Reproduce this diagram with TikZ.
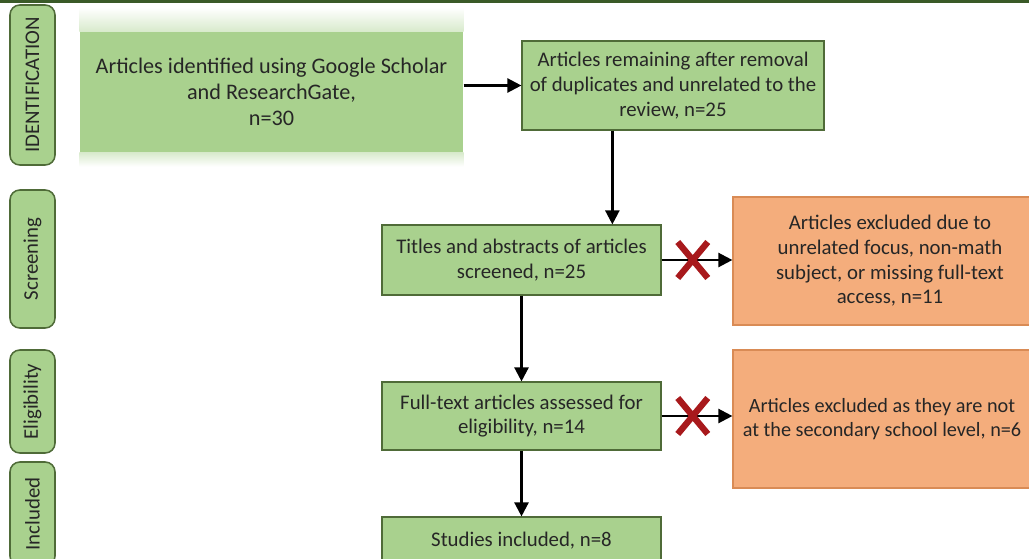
\documentclass[tikz,border=0pt]{standalone}
\usepackage{fontspec}
\setmainfont{Carlito}
\usetikzlibrary{arrows.meta, positioning, calc, fit, backgrounds}

\definecolor{stagegreen}{HTML}{A9D18E}
\definecolor{stageline}{HTML}{4F6B38}
\definecolor{exclfill}{HTML}{F4AD7C}
\definecolor{exclline}{HTML}{D98B55}
\definecolor{crossred}{HTML}{A8191C}
\definecolor{bandgreen}{HTML}{3A5A28}
\definecolor{textgray}{HTML}{262626}

\begin{document}
\begin{tikzpicture}[
    x=0.025cm, y=-0.025cm,
    font=\fontsize{14.8}{17.5}\selectfont,
    % Styles
    phase/.style={
        draw=stageline, fill=stagegreen, rounded corners=7pt, rotate=90,
        minimum height=1.125cm, line width=1.1pt, text=textgray
    },
    record/.style={
        draw=stageline, fill=stagegreen, align=center,
        minimum width=6.975cm, line width=0.8pt, text=textgray
    },
    excluded/.style={
        draw=exclline, fill=exclfill, align=center,
        minimum width=7.85cm, line width=0.8pt, text=textgray
    },
    arrow/.style={-{Triangle[length=10pt, width=10pt]}, line width=1.7pt},
    cross/.style={crossred, line width=4.5pt}
]
    \useasboundingbox (0,0) rectangle (1029,558);
    \clip (0,0) rectangle (1029,558);

    % --- Top band ---
    \fill[bandgreen] (0,0) rectangle (1029,3);

    % --- Phase labels ---
    \node[phase, minimum width=4cm] (phIdent) at (32.5,85) {IDENTIFICATION};
    \node[phase, minimum width=3.45cm] (phScreen) at (32.5,259) {Screening};
    \node[phase, minimum width=2.575cm] (phElig) at (32.5,401.5) {Eligibility};
    \node[phase, minimum width=2.6cm] (phIncl) at (32.5,514) {Included};

    % --- Records ---
    \node[record, draw=none, minimum width=9.575cm, minimum height=3cm,
          font=\fontsize{15.8}{18.5}\selectfont] (ident) at (271.5,92)
        {Articles identified using Google Scholar\\and ResearchGate,\\n=30};
    \node[record, minimum width=7.55cm, minimum height=2.225cm] (remain) at (673,85.5)
        {Articles remaining after removal\\of duplicates and unrelated to the\\review, n=25};
    \node[record, minimum height=1.75cm] (titles) at (521.5,260)
        {Titles and abstracts of articles\\screened, n=25};
    \node[record, minimum height=1.7cm] (fulltext) at (521.5,416)
        {Full-text articles assessed for\\eligibility, n=14};
    \node[record, minimum height=1.2cm] (studies) at (521.5,541)
        {Studies included, n=8};

    % --- Exclusions ---
    \node[excluded, minimum height=3.2cm] (exclFocus) at (890,261)
        {Articles excluded due to\\unrelated focus, non-math\\subject, or missing full-text\\access, n=11};
    \node[excluded, minimum width=7.45cm, minimum height=3.45cm,
          font=\fontsize{14.4}{17.5}\selectfont] (exclLevel) at (882,419)
        {Articles excluded as they are not\\at the secondary school level, n=6};

    % --- Connections ---
    \draw[arrow] (ident.east |- remain.west) -- (remain.west);
    \coordinate (down1) at ($(remain.south west)!0.3!(remain.south east)$);
    \draw[arrow] (down1) -- (down1 |- titles.north);
    \draw[arrow] (titles.south) -- (fulltext.north);
    \draw[arrow] (fulltext.south) -- (studies.north);

    % Exclusion arrows with crosses
    \draw[arrow] (titles.east) -- coordinate[pos=0.44] (cut1) (titles.east -| exclFocus.west);
    \draw[arrow] (fulltext.east) -- coordinate[pos=0.44] (cut2) (fulltext.east -| exclLevel.west);
    \foreach \c in {cut1, cut2} {
        \draw[cross] ($(\c)+(-15,-18)$) -- ($(\c)+(15,18)$);
        \draw[cross] ($(\c)+(-15,18)$) -- ($(\c)+(15,-18)$);
    }

    % --- Soft edge round the first record ---
    \begin{scope}[on background layer]
        \shade[top color=white, bottom color=stagegreen!45]
            ($(ident.north west)+(0,-24)$) rectangle (ident.north east);
        \shade[top color=stagegreen!45, bottom color=white]
            (ident.south west) rectangle ($(ident.south east)+(0,14)$);
    \end{scope}

\end{tikzpicture}
\end{document}
